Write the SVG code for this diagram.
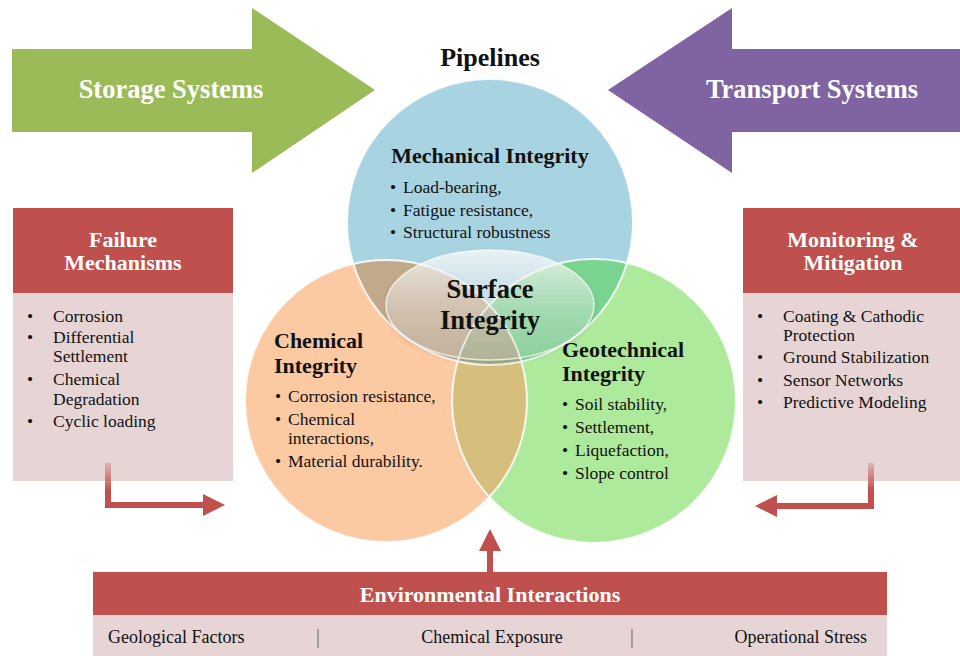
<svg xmlns="http://www.w3.org/2000/svg" width="960" height="656" viewBox="0 0 960 656">
  <defs>
    <style>
      .serif { font-family: "Liberation Serif", "Times New Roman", serif; }
      .bold { font-weight: bold; }
      .white { fill: #ffffff; }
      .dark { fill: #111111; }
      .head { fill: #c0504d; }
      .body { fill: #e7d5d6; }
      .edge { fill: none; stroke: #ffffff; stroke-width: 2; stroke-opacity: 0.85; }
      .link { fill: none; stroke-width: 6; stroke-linejoin: miter; }
      .sep { stroke: #777777; stroke-width: 1.2; }
    </style>
    <clipPath id="clipBlue"><circle cx="490" cy="222" r="143"/></clipPath>
    <clipPath id="clipOrange"><circle cx="386" cy="401" r="141"/></clipPath>
    <clipPath id="clipGreen"><circle cx="594" cy="401" r="142"/></clipPath>
    <linearGradient id="veil" x1="0" y1="0" x2="0" y2="1">
      <stop offset="0" stop-color="#ffffff" stop-opacity="0.75"/>
      <stop offset="0.55" stop-color="#f2f2f2" stop-opacity="0.35"/>
      <stop offset="1" stop-color="#d0d0d0" stop-opacity="0.25"/>
    </linearGradient>
    <linearGradient id="fadeL" gradientUnits="userSpaceOnUse" x1="0" y1="463" x2="0" y2="490">
      <stop offset="0" stop-color="#c0504d" stop-opacity="0.25"/>
      <stop offset="1" stop-color="#c0504d" stop-opacity="1"/>
    </linearGradient>
    <marker id="tip" markerUnits="userSpaceOnUse" viewBox="0 0 22 22" refX="2" refY="11" markerWidth="22" markerHeight="22" orient="auto">
      <path d="M0,0 L22,11 L0,22 Z" fill="#c0504d"/>
    </marker>
    <filter id="soft" x="-10%" y="-10%" width="120%" height="130%">
      <feDropShadow dx="0" dy="2" stdDeviation="2" flood-color="#000000" flood-opacity="0.18"/>
    </filter>
  </defs>

  <rect x="0" y="0" width="960" height="656" fill="#ffffff"/>

  <!-- big input arrows -->
  <g id="storage-systems">
    <polygon points="12,49 252,49 252,8 375,90 252,173 252,132 12,132" fill="#9bbb59"/>
    <text x="171" y="98" text-anchor="middle" class="serif bold white" font-size="26.5">Storage Systems</text>
  </g>
  <g id="transport-systems">
    <polygon points="960,49 732,49 732,8 608,90 732,173 732,132 960,132" fill="#8064a2"/>
    <text x="812" y="98" text-anchor="middle" class="serif bold white" font-size="26.5">Transport Systems</text>
  </g>

  <g id="pipelines-title">
    <text x="490" y="66" text-anchor="middle" class="serif bold dark" font-size="26">Pipelines</text>
  </g>

  <!-- three-way venn -->
  <g id="venn">
    <circle cx="490" cy="222" r="143" fill="#a8d4e2"/>
    <circle cx="386" cy="401" r="141" fill="#fbc9a2"/>
    <circle cx="594" cy="401" r="142" fill="#aeea9c"/>
    <!-- pairwise overlaps -->
    <circle cx="386" cy="401" r="141" fill="#c2a98a" clip-path="url(#clipBlue)"/>
    <circle cx="594" cy="401" r="142" fill="#79d48f" clip-path="url(#clipBlue)"/>
    <circle cx="594" cy="401" r="142" fill="#d6bf7d" clip-path="url(#clipOrange)"/>
    <!-- triple overlap -->
    <g clip-path="url(#clipBlue)">
      <circle cx="594" cy="401" r="142" fill="#a9ad84" clip-path="url(#clipOrange)"/>
    </g>
    <circle class="edge" cx="490" cy="222" r="143"/>
    <circle class="edge" cx="386" cy="401" r="141"/>
    <circle class="edge" cx="594" cy="401" r="142"/>
  </g>

  <g id="mechanical-integrity">
    <text x="490" y="163" text-anchor="middle" class="serif bold dark" font-size="22">Mechanical Integrity</text>
    <g class="serif dark" font-size="17.5">
      <text x="390" y="193">•</text><text x="403" y="193">Load-bearing,</text>
      <text x="390" y="216">•</text><text x="403" y="216">Fatigue resistance,</text>
      <text x="390" y="238">•</text><text x="403" y="238">Structural robustness</text>
    </g>
  </g>

  <g id="chemical-integrity">
    <text x="274" y="348" class="serif bold dark" font-size="22">Chemical</text>
    <text x="274" y="373" class="serif bold dark" font-size="22">Integrity</text>
    <g class="serif dark" font-size="17.5">
      <text x="275" y="402">•</text><text x="288" y="402">Corrosion resistance,</text>
      <text x="275" y="425">•</text><text x="288" y="425">Chemical</text>
      <text x="288" y="444">interactions,</text>
      <text x="275" y="467">•</text><text x="288" y="467">Material durability.</text>
    </g>
  </g>

  <g id="geotechnical-integrity">
    <text x="562" y="357" class="serif bold dark" font-size="22">Geotechnical</text>
    <text x="562" y="381" class="serif bold dark" font-size="22">Integrity</text>
    <g class="serif dark" font-size="17.5">
      <text x="562" y="410">•</text><text x="575" y="410">Soil stability,</text>
      <text x="562" y="433">•</text><text x="575" y="433">Settlement,</text>
      <text x="562" y="456">•</text><text x="575" y="456">Liquefaction,</text>
      <text x="562" y="479">•</text><text x="575" y="479">Slope control</text>
    </g>
  </g>

  <g id="surface-integrity">
    <ellipse cx="490" cy="305" rx="104" ry="55" fill="url(#veil)" stroke="#ffffff" stroke-opacity="0.7" stroke-width="1.5" filter="url(#soft)"/>
    <text x="490" y="298" text-anchor="middle" class="serif bold dark" font-size="26.5">Surface</text>
    <text x="490" y="329" text-anchor="middle" class="serif bold dark" font-size="26.5">Integrity</text>
  </g>

  <!-- side panels -->
  <g id="failure-mechanisms">
    <rect x="13" y="292" width="220" height="189" class="body"/>
    <rect x="13" y="208" width="220" height="85" class="head"/>
    <text x="123" y="247" text-anchor="middle" class="serif bold white" font-size="22">Failure</text>
    <text x="123" y="270" text-anchor="middle" class="serif bold white" font-size="22">Mechanisms</text>
    <g class="serif dark" font-size="17.5">
      <text x="27" y="322">•</text><text x="53" y="322">Corrosion</text>
      <text x="27" y="343">•</text><text x="53" y="343">Differential</text>
      <text x="53" y="362">Settlement</text>
      <text x="27" y="385">•</text><text x="53" y="385">Chemical</text>
      <text x="53" y="405">Degradation</text>
      <text x="27" y="427">•</text><text x="53" y="427">Cyclic loading</text>
    </g>
  </g>

  <g id="monitoring-mitigation">
    <rect x="743" y="292" width="217" height="189" class="body"/>
    <rect x="743" y="208" width="217" height="85" class="head"/>
    <text x="853" y="247" text-anchor="middle" class="serif bold white" font-size="22">Monitoring &amp;</text>
    <text x="853" y="270" text-anchor="middle" class="serif bold white" font-size="22">Mitigation</text>
    <g class="serif dark" font-size="17.5">
      <text x="757" y="322">•</text><text x="783" y="322">Coating &amp; Cathodic</text>
      <text x="783" y="341">Protection</text>
      <text x="757" y="363">•</text><text x="783" y="363">Ground Stabilization</text>
      <text x="757" y="386">•</text><text x="783" y="386">Sensor Networks</text>
      <text x="757" y="408">•</text><text x="783" y="408">Predictive Modeling</text>
    </g>
  </g>

  <g id="environmental-interactions">
    <rect x="93" y="614" width="794" height="42" class="body"/>
    <rect x="93" y="572" width="794" height="43" class="head"/>
    <text x="490" y="602" text-anchor="middle" class="serif bold white" font-size="22">Environmental Interactions</text>
    <g class="serif dark" font-size="18">
      <text x="108" y="643">Geological Factors</text>
      <text x="492" y="643" text-anchor="middle">Chemical Exposure</text>
      <text x="867" y="643" text-anchor="end">Operational Stress</text>
    </g>
    <line class="sep" x1="318" y1="629" x2="318" y2="648"/>
    <line class="sep" x1="632" y1="629" x2="632" y2="648"/>
  </g>

  <!-- connectors -->
  <g id="connectors">
    <path class="link" d="M108,463 L108,505 L205,505" stroke="url(#fadeL)" marker-end="url(#tip)"/>
    <path class="link" d="M871,463 L871,506 L775,506" stroke="url(#fadeL)" marker-end="url(#tip)"/>
    <path class="link" d="M490,572 L490,549" stroke="#c0504d" marker-end="url(#tip)"/>
  </g>
</svg>
